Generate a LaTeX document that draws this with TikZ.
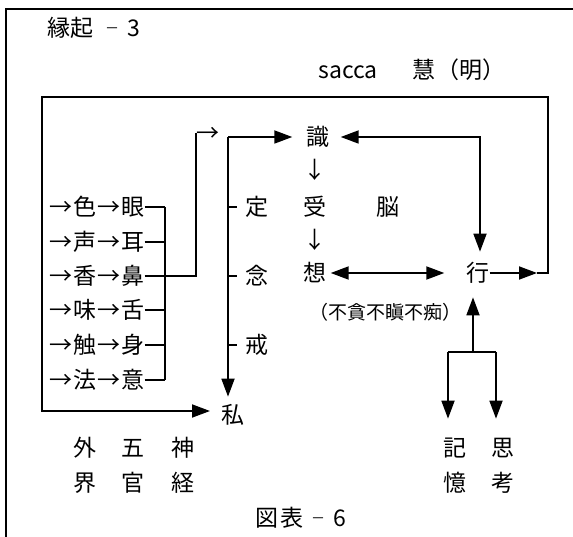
\documentclass[tikz,border=0pt]{standalone}
\usepackage{fontspec}
\newfontfamily\jp{Noto Sans CJK JP}
\usetikzlibrary{arrows.meta}
\begin{document}
\begin{tikzpicture}[x=1pt,y=-1pt,
 ln/.style={line width=1.8pt},
 tip/.style={-{Triangle[length=18pt,width=13pt]}},
 arr/.style={ln,tip},
 dar/.style={ln,{Triangle[length=18pt,width=13pt]}-{Triangle[length=18pt,width=13pt]}},
 t/.style={font=\jp\fontsize{23}{23}\selectfont, inner sep=0pt, text height=18.9pt, text depth=1.4pt},
 ts/.style={font=\jp\fontsize{19}{19}\selectfont, inner sep=0pt, text height=15.6pt, text depth=1.1pt},
 tm/.style={font=\jp\fontsize{14}{14}\selectfont, inner sep=0pt, text height=11.5pt, text depth=0.8pt},
]
\useasboundingbox (0,0) rectangle (573,537);
% outer frame (top and left)
\draw[line width=2.2pt] (6,537) -- (6,9) -- (573,9);

% title
\node[t,anchor=west] (title) at (47,28) {縁起};
\node[tm] (tdash) at (112,28) {－};
\node[t] (tnum) at (134,28) {3};
% sacca
\node[t] (sacca) at (348,70) {sacca};
\node[t] (kei) at (424,70) {慧};
\node[t] (mei) at (471,70) {（明）};

% six rows
\foreach \s/\o/\y/\i in {色/眼/207/1, 声/耳/242/2, 香/鼻/276/3, 味/舌/310/4, 触/身/345/5, 法/意/380/6} {
  \node[t] (aa\i) at (61,\y) {→};
  \node[t] (s\i) at (85,\y) {\s};
  \node[t] (ab\i) at (109,\y) {→};
  \node[t] (o\i) at (133,\y) {\o};
}
\coordinate (bt) at (165,207);
\coordinate (bb) at (165,380);
\draw[ln] (bt) -- (bb);
\foreach \i in {1,2,4,5,6} { \draw[ln] (o\i.east) -- (o\i.east -| bt); }
\node[t] (up) at (208,133) {→};
\draw[ln] (o3.east) -| (up.west);

% second column
\node[t] (shiki) at (318,137) {識};
\node[t] (watashi) at (233,415) {私};
\coordinate (v2) at (228,137);
\draw[arr,shorten >=14pt] (v2) -- (shiki.west);
\draw[arr,shorten >=8pt] (v2) -- (v2 |- watashi.north);
\foreach \c/\y/\n in {定/207/jo, 念/276/nen, 戒/345/kai} {
  \draw[ln] (228,\y) -- (237,\y);
  \node[t] (\n) at (257,\y) {\c};
}

% centre column
\node[t] (d1) at (315,170) {↓};
\node[t] (ju) at (315,207) {受};
\node[t] (nou) at (388,207) {脳};
\node[t] (d2) at (315,240) {↓};
\node[t] (sou) at (315,273) {想};
\node[t] (gyo) at (478,273) {行};
\node[ts] (fu) at (385,312) {（不貪不瞋不痴）};

\draw[dar,shorten <=11pt,shorten >=11pt] (shiki.east) -- (480,137) -- (480,273 |- gyo.north);
\draw[dar,shorten <=4pt,shorten >=22pt] (sou.east) -- (gyo.west);

% feedback loop
\coordinate (fr) at (537,273);
\coordinate (tipW) at (210,411);
\draw[arr] (gyo.east) -- (fr);
\draw[arr] (fr) -- (548,273) -- (548,97) -- (42,97) -- (42,411) -- (tipW);

% memory / thinking
\coordinate (j) at (473,352);
\coordinate (jl) at (448,352);
\coordinate (jr) at (496,352);
\node[t] (ki) at (455,448) {記};
\node[t] (oku) at (455,483) {憶};
\node[t] (shi) at (503,448) {思};
\node[t] (kou) at (503,483) {考};
\draw[arr,shorten >=14pt] (j) -- (j |- gyo.south);
\draw[ln] (jl) -- (jr);
\draw[arr,shorten >=19pt] (jl) -- (jl |- ki.north);
\draw[arr,shorten >=19pt] (jr) -- (jr |- shi.north);

% bottom labels
\node[t] (gai) at (85,448) {外};
\node[t] (kai2) at (85,483) {界};
\node[t] (go) at (133,448) {五};
\node[t] (kan) at (133,483) {官};
\node[t] (shin) at (183,448) {神};
\node[t] (kei2) at (183,483) {経};
\node[t] (zu) at (267,518) {図};
\node[t] (hyo) at (292,518) {表};
\node[tm] (zdash) at (318,518) {－};
\node[t] (six) at (340,518) {6};
\end{tikzpicture}
\end{document}
